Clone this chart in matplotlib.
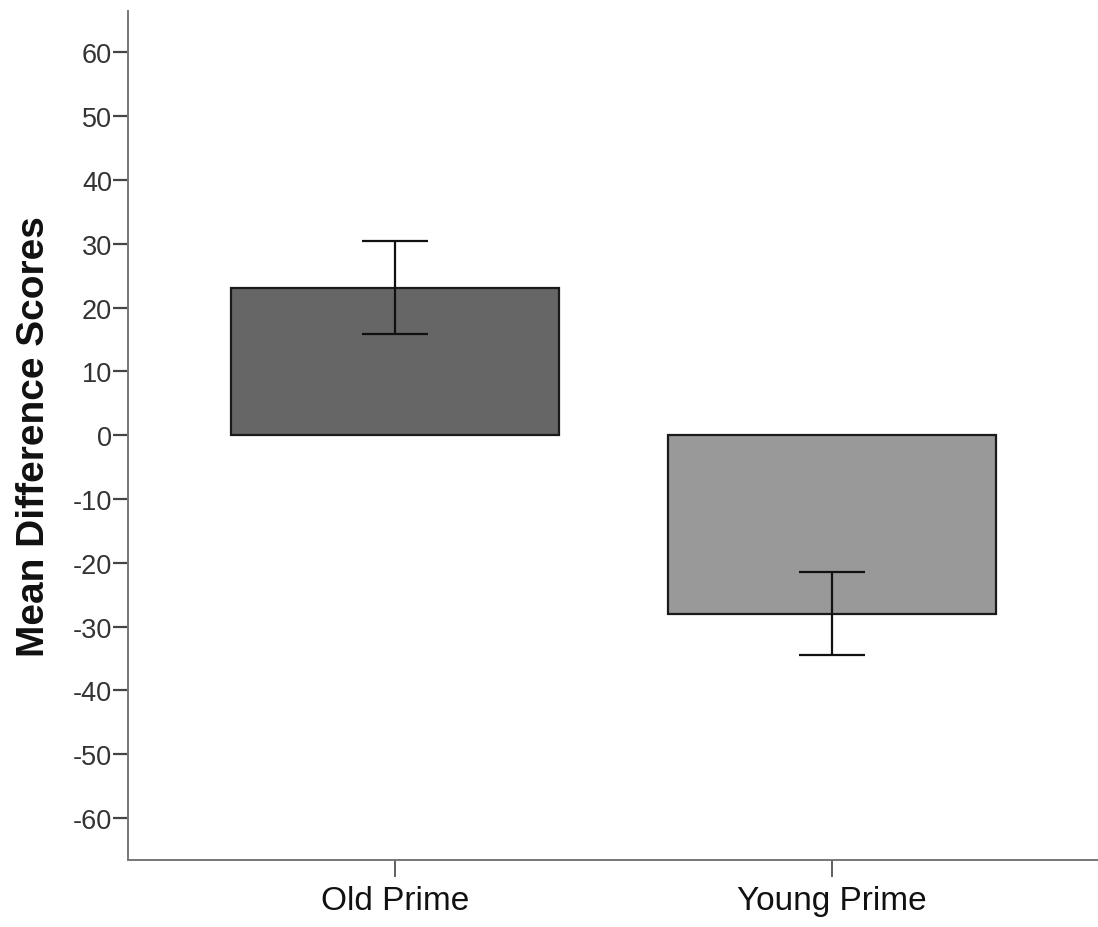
import matplotlib.pyplot as plt
import numpy as np

# mean difference scores per prime condition, with error bar half-widths
conditions = ['Old Prime', 'Young Prime']
mean_scores = [23.1, -28.0]
error_sizes = [7.3, 6.5]
bar_colors = ['#666666', '#999999']
y_ticks = [60, 50, 40, 30, 20, 10, 0, -10, -20, -30, -40, -50, -60]

plt.rcParams['font.family'] = ['Liberation Sans', 'DejaVu Sans']

fig = plt.figure(figsize=(10.98, 9.28), dpi=100)
ax = fig.add_axes([128 / 1098, 1 - 861 / 928, 1 - 128 / 1098, (861 - 12) / 928])

x = np.arange(len(conditions))
ax.bar(x, mean_scores, width=0.75, color=bar_colors, edgecolor='#1a1a1a',
       linewidth=1.6, zorder=2)
ax.errorbar(x, mean_scores, yerr=error_sizes, fmt='none', ecolor='#111111',
            elinewidth=1.6, capsize=24, capthick=1.6, zorder=3)

ax.set_xlim(-0.611, 1.609)
ax.set_ylim(-66.6, 66.5)
ax.set_xticks(x)
ax.set_xticklabels(conditions, fontsize=24, color='#111111')
ax.set_yticks(y_ticks)
ax.set_yticklabels([str(t) for t in y_ticks], fontsize=19.5, color='#333333')
ax.tick_params(axis='y', length=11, width=1.6, color='#444444', pad=0.5)
ax.tick_params(axis='x', length=12, width=1.2, color='#444444', pad=6)

for side in ['top', 'right']:
    ax.spines[side].set_visible(False)
for side in ['left', 'bottom']:
    ax.spines[side].set_color('#777777')
    ax.spines[side].set_linewidth(1.4)

ax.set_ylabel('Mean Difference Scores', fontsize=28, fontweight='bold',
              color='#111111', labelpad=15)

fig.savefig('out.png', dpi=100)
